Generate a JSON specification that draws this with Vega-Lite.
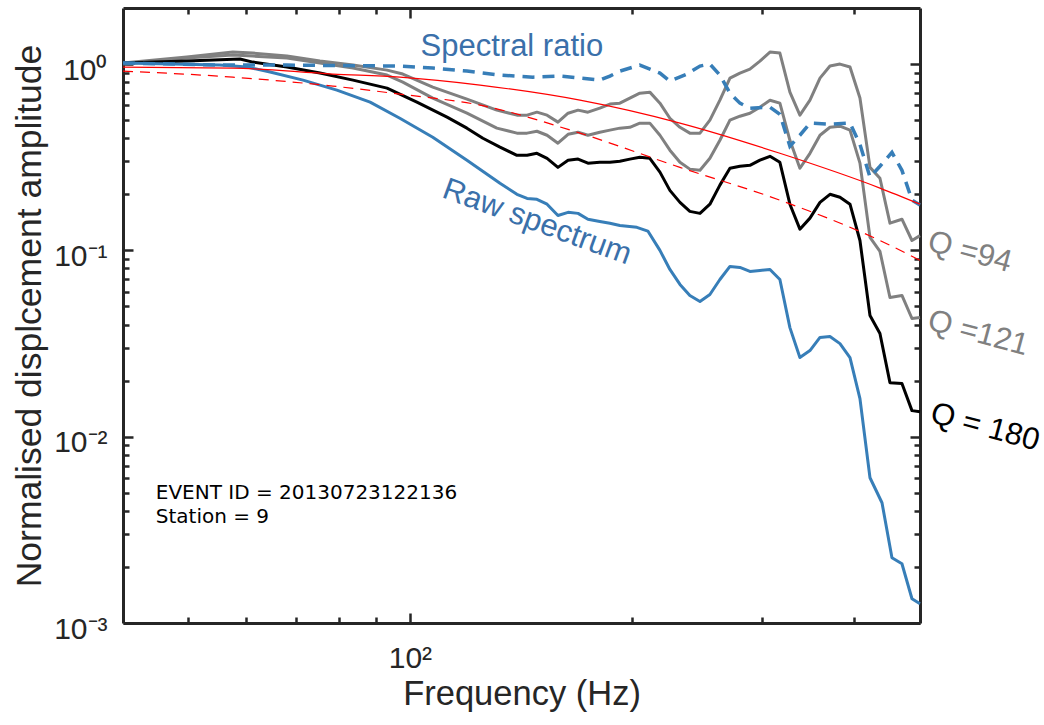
{
  "$schema": "https://vega.github.io/schema/vega-lite/v6.json",
  "width": 797,
  "height": 615,
  "autosize": {"type": "none"},
  "padding": {"left": 123, "top": 8, "right": 124, "bottom": 102},
  "background": "white",
  "config": {
    "view": {"stroke": null},
    "font": "Liberation Sans",
    "axis": {
      "grid": false,
      "domainColor": "#262626",
      "tickColor": "#262626",
      "labelColor": "#262626",
      "titleColor": "#262626",
      "domainWidth": 3,
      "tickWidth": 2.5,
      "labelFont": "Liberation Sans",
      "titleFont": "Liberation Sans",
      "titleFontWeight": "normal",
      "labelFontSize": 30,
      "titleFontSize": 34.5
    }
  },
  "datasets": {
    "raw": [
      {"f":40.8,"a":1.013},{"f":55.2,"a":0.988},{"f":60.1,"a":0.964},{"f":64.6,"a":0.906},{"f":71.6,"a":0.820},{"f":79.6,"a":0.725},{"f":88.3,"a":0.625},{"f":96.9,"a":0.512},{"f":107.4,"a":0.405},{"f":119.5,"a":0.305},{"f":132.5,"a":0.229},{"f":139.7,"a":0.200},{"f":144.2,"a":0.190},{"f":148.7,"a":0.188},{"f":153.5,"a":0.177},{"f":158.8,"a":0.154},{"f":163.9,"a":0.160},{"f":169.1,"a":0.158},{"f":174.4,"a":0.147},{"f":181.0,"a":0.143},{"f":186.8,"a":0.140},{"f":192.7,"a":0.136},{"f":203.2,"a":0.133},{"f":210.3,"a":0.127},{"f":218.4,"a":0.100},{"f":225.3,"a":0.079},{"f":232.5,"a":0.0657},{"f":239.8,"a":0.0573},{"f":247.5,"a":0.0532},{"f":255.3,"a":0.0580},{"f":263.4,"a":0.0698},{"f":271.8,"a":0.0820},{"f":280.4,"a":0.0810},{"f":289.3,"a":0.0771},{"f":298.5,"a":0.0781},{"f":308.0,"a":0.0790},{"f":317.7,"a":0.0698},{"f":327.8,"a":0.0385},{"f":338.2,"a":0.0266},{"f":349.0,"a":0.0290},{"f":360.1,"a":0.0341},{"f":371.5,"a":0.0345},{"f":383.3,"a":0.0316},{"f":395.5,"a":0.0266},{"f":408.0,"a":0.0160},{"f":421.0,"a":0.00602},{"f":437.1,"a":0.00442},{"f":450.9,"a":0.00224},{"f":465.2,"a":0.00208},{"f":480.0,"a":0.00135},{"f":492.2,"a":0.00127}
    ],
    "ratio": [
      {"f":40.8,"a":1.013},{"f":55.2,"a":0.988},{"f":68.1,"a":0.988},{"f":96.9,"a":0.976},{"f":107.4,"a":0.952},{"f":119.5,"a":0.917},{"f":132.5,"a":0.873},{"f":146.9,"a":0.851},{"f":159.8,"a":0.862},{"f":170.1,"a":0.841},{"f":181.0,"a":0.820},{"f":186.8,"a":0.862},{"f":192.7,"a":0.917},{"f":205.1,"a":0.988},{"f":218.4,"a":0.895},{"f":225.3,"a":0.810},{"f":237.6,"a":0.884},{"f":247.5,"a":0.976},{"f":255.3,"a":1.0},{"f":263.4,"a":0.873},{"f":271.8,"a":0.698},{"f":280.4,"a":0.617},{"f":289.3,"a":0.580},{"f":308.0,"a":0.587},{"f":317.7,"a":0.538},{"f":327.8,"a":0.362},{"f":338.2,"a":0.415},{"f":349.0,"a":0.482},{"f":371.5,"a":0.476},{"f":395.5,"a":0.482},{"f":408.0,"a":0.371},{"f":421.0,"a":0.247},{"f":434.3,"a":0.283},{"f":450.9,"a":0.336},{"f":465.2,"a":0.269},{"f":480.0,"a":0.186},{"f":492.2,"a":0.175}
    ],
    "q94": [
      {"f":40.8,"a":1.013},{"f":49.8,"a":1.091},{"f":57.5,"a":1.160},{"f":61.2,"a":1.146},{"f":68.1,"a":1.104},{"f":75.5,"a":1.038},{"f":83.7,"a":0.988},{"f":93.1,"a":0.928},{"f":97.8,"a":0.884},{"f":107.4,"a":0.752},{"f":119.5,"a":0.648},{"f":131.2,"a":0.566},{"f":139.7,"a":0.532},{"f":144.2,"a":0.532},{"f":148.7,"a":0.552},{"f":153.5,"a":0.532},{"f":158.8,"a":0.488},{"f":163.9,"a":0.545},{"f":169.1,"a":0.566},{"f":174.4,"a":0.552},{"f":181.0,"a":0.580},{"f":186.8,"a":0.610},{"f":192.7,"a":0.617},{"f":198.8,"a":0.657},{"f":205.1,"a":0.698},{"f":211.6,"a":0.707},{"f":218.4,"a":0.617},{"f":225.3,"a":0.512},{"f":232.5,"a":0.458},{"f":239.8,"a":0.426},{"f":247.5,"a":0.426},{"f":255.3,"a":0.500},{"f":263.4,"a":0.640},{"f":271.8,"a":0.841},{"f":280.4,"a":0.895},{"f":289.3,"a":0.940},{"f":298.5,"a":1.038},{"f":308.0,"a":1.160},{"f":317.7,"a":1.146},{"f":327.8,"a":0.707},{"f":338.2,"a":0.532},{"f":349.0,"a":0.640},{"f":360.1,"a":0.841},{"f":371.5,"a":0.976},{"f":383.3,"a":1.0},{"f":395.5,"a":0.964},{"f":408.0,"a":0.657},{"f":421.0,"a":0.279},{"f":434.3,"a":0.244},{"f":448.1,"a":0.140},{"f":465.2,"a":0.147},{"f":480.0,"a":0.113},{"f":492.2,"a":0.120}
    ],
    "q121": [
      {"f":40.8,"a":1.0},{"f":49.8,"a":1.077},{"f":57.5,"a":1.118},{"f":61.2,"a":1.104},{"f":68.1,"a":1.077},{"f":75.5,"a":1.013},{"f":83.7,"a":0.952},{"f":93.1,"a":0.873},{"f":97.8,"a":0.800},{"f":107.4,"a":0.657},{"f":119.5,"a":0.545},{"f":131.2,"a":0.453},{"f":139.7,"a":0.426},{"f":144.2,"a":0.426},{"f":148.7,"a":0.436},{"f":153.5,"a":0.415},{"f":158.8,"a":0.376},{"f":163.9,"a":0.420},{"f":169.1,"a":0.431},{"f":174.4,"a":0.415},{"f":181.0,"a":0.431},{"f":186.8,"a":0.442},{"f":192.7,"a":0.453},{"f":198.8,"a":0.458},{"f":205.1,"a":0.482},{"f":211.6,"a":0.482},{"f":218.4,"a":0.415},{"f":225.3,"a":0.345},{"f":232.5,"a":0.297},{"f":239.8,"a":0.273},{"f":247.5,"a":0.269},{"f":255.3,"a":0.312},{"f":263.4,"a":0.390},{"f":271.8,"a":0.500},{"f":280.4,"a":0.525},{"f":289.3,"a":0.545},{"f":298.5,"a":0.587},{"f":308.0,"a":0.640},{"f":317.7,"a":0.617},{"f":327.8,"a":0.390},{"f":338.2,"a":0.276},{"f":349.0,"a":0.332},{"f":360.1,"a":0.415},{"f":371.5,"a":0.458},{"f":383.3,"a":0.464},{"f":395.5,"a":0.442},{"f":408.0,"a":0.294},{"f":421.0,"a":0.1175},{"f":434.3,"a":0.0988},{"f":448.1,"a":0.0559},{"f":465.2,"a":0.0573},{"f":480.0,"a":0.0431},{"f":492.2,"a":0.0436}
    ],
    "q180": [
      {"f":40.8,"a":1.013},{"f":49.8,"a":1.038},{"f":58.8,"a":1.064},{"f":61.2,"a":1.025},{"f":68.1,"a":0.964},{"f":75.5,"a":0.895},{"f":83.7,"a":0.820},{"f":93.1,"a":0.743},{"f":102.2,"a":0.625},{"f":112.3,"a":0.519},{"f":119.5,"a":0.453},{"f":125.6,"a":0.400},{"f":132.5,"a":0.358},{"f":139.7,"a":0.324},{"f":144.2,"a":0.324},{"f":148.7,"a":0.332},{"f":153.5,"a":0.312},{"f":158.8,"a":0.279},{"f":163.9,"a":0.305},{"f":169.1,"a":0.309},{"f":174.4,"a":0.294},{"f":181.0,"a":0.297},{"f":186.8,"a":0.297},{"f":192.7,"a":0.301},{"f":198.8,"a":0.309},{"f":205.1,"a":0.316},{"f":211.6,"a":0.312},{"f":218.4,"a":0.263},{"f":225.3,"a":0.210},{"f":232.5,"a":0.181},{"f":239.8,"a":0.162},{"f":247.5,"a":0.158},{"f":255.3,"a":0.177},{"f":263.4,"a":0.224},{"f":271.8,"a":0.276},{"f":280.4,"a":0.283},{"f":289.3,"a":0.286},{"f":298.5,"a":0.305},{"f":308.0,"a":0.320},{"f":317.7,"a":0.297},{"f":327.8,"a":0.177},{"f":338.2,"a":0.130},{"f":349.0,"a":0.149},{"f":360.1,"a":0.181},{"f":371.5,"a":0.200},{"f":383.3,"a":0.193},{"f":395.5,"a":0.177},{"f":408.0,"a":0.113},{"f":421.0,"a":0.0447},{"f":434.3,"a":0.0358},{"f":448.1,"a":0.0195},{"f":465.2,"a":0.0193},{"f":480.0,"a":0.0138},{"f":492.2,"a":0.0136}
    ],
    "redSolid": [
      {"f":40.8,"a":0.964},{"f":57.5,"a":0.952},{"f":78.6,"a":0.884},{"f":96.9,"a":0.851},{"f":124.5,"a":0.771},{"f":170.1,"a":0.640},{"f":232.5,"a":0.482},{"f":317.7,"a":0.332},{"f":434.3,"a":0.216},{"f":492.2,"a":0.177}
    ],
    "redDash": [
      {"f":40.8,"a":0.917},{"f":57.5,"a":0.851},{"f":78.6,"a":0.762},{"f":96.9,"a":0.690},{"f":124.5,"a":0.602},{"f":170.1,"a":0.426},{"f":232.5,"a":0.279},{"f":317.7,"a":0.186},{"f":434.3,"a":0.113},{"f":492.2,"a":0.0884}
    ],
    "notes": [
      {"k":"ratio","f":137.5,"a":1.234,"t":"Spectral ratio"},
      {"k":"raw","f":148.7,"a":0.1414,"t":"Raw spectrum"},
      {"k":"q94","f":575,"a":0.0975,"t":"Q =94"},
      {"k":"q121","f":590,"a":0.0358,"t":"Q =121"},
      {"k":"q180","f":603,"a":0.0112,"t":"Q = 180"},
      {"k":"ev","f":45.2,"a":0.00464,"t":"EVENT ID = 20130723122136"},
      {"k":"st","f":45.2,"a":0.00345,"t":"Station = 9"}
    ]
  },
  "layer": [
    {
      "data": {"name": "q94"},
      "mark": {"type": "line", "color": "#808080", "strokeWidth": 3, "strokeJoin": "round"},
      "encoding": {
        "x": {"field": "f", "type": "quantitative", "scale": {"type": "log", "domain": [40.8, 492.2], "nice": false},
          "axis": {"orient": "bottom", "values": [100], "labelExpr": "'10²'", "tickSize": -10, "labelPadding": 30, "labelFlush": false, "title": "Frequency (Hz)", "titlePadding": 4, "domain": true}},
        "y": {"field": "a", "type": "quantitative", "scale": {"type": "log", "domain": [0.001, 2], "nice": false},
          "axis": {"orient": "left", "values": [0.001, 0.01, 0.1, 1], "labelExpr": "datum.value > 0.5 ? '10⁰' : datum.value > 0.05 ? '10⁻¹' : datum.value > 0.005 ? '10⁻²' : '10⁻³'", "tickSize": -10, "labelPadding": 26, "labelOffset": 6, "labelFlush": false, "title": "Normalised displcement amplitude", "titleFontSize": 35.5, "titlePadding": 6, "domain": true}}
      }
    },
    {
      "data": {"name": "q121"},
      "mark": {"type": "line", "color": "#808080", "strokeWidth": 3, "strokeJoin": "round"},
      "encoding": {
        "x": {"field": "f", "type": "quantitative", "scale": {"type": "log", "domain": [40.8, 492.2], "nice": false},
          "axis": {"orient": "bottom", "values": [50, 60, 70, 80, 90, 200, 300, 400], "labels": false, "tickSize": -6, "title": null, "domain": false}},
        "y": {"field": "a", "type": "quantitative", "scale": {"type": "log", "domain": [0.001, 2], "nice": false},
          "axis": {"orient": "left", "values": [0.002,0.003,0.004,0.005,0.006,0.007,0.008,0.009,0.02,0.03,0.04,0.05,0.06,0.07,0.08,0.09,0.2,0.3,0.4,0.5,0.6,0.7,0.8,0.9], "labels": false, "tickSize": -6, "title": null, "domain": false}}
      }
    },
    {
      "data": {"name": "q180"},
      "mark": {"type": "line", "color": "#000000", "strokeWidth": 3, "strokeJoin": "round"},
      "encoding": {
        "x": {"field": "f", "type": "quantitative", "scale": {"type": "log", "domain": [40.8, 492.2], "nice": false},
          "axis": {"orient": "top", "values": [100], "labels": false, "tickSize": -10, "title": null, "domain": true}},
        "y": {"field": "a", "type": "quantitative", "scale": {"type": "log", "domain": [0.001, 2], "nice": false},
          "axis": {"orient": "right", "values": [0.001, 0.01, 0.1, 1], "labels": false, "tickSize": -10, "title": null, "domain": true}}
      }
    },
    {
      "data": {"name": "raw"},
      "mark": {"type": "line", "color": "#377eb8", "strokeWidth": 3, "strokeJoin": "round"},
      "encoding": {
        "x": {"field": "f", "type": "quantitative", "scale": {"type": "log", "domain": [40.8, 492.2], "nice": false},
          "axis": {"orient": "top", "values": [50, 60, 70, 80, 90, 200, 300, 400], "labels": false, "tickSize": -6, "title": null, "domain": false}},
        "y": {"field": "a", "type": "quantitative", "scale": {"type": "log", "domain": [0.001, 2], "nice": false},
          "axis": {"orient": "right", "values": [0.002,0.003,0.004,0.005,0.006,0.007,0.008,0.009,0.02,0.03,0.04,0.05,0.06,0.07,0.08,0.09,0.2,0.3,0.4,0.5,0.6,0.7,0.8,0.9], "labels": false, "tickSize": -6, "title": null, "domain": false}}
      }
    },
    {
      "data": {"name": "ratio"},
      "mark": {"type": "line", "color": "#377eb8", "strokeWidth": 3.5, "strokeDash": [12, 8]},
      "encoding": {
        "x": {"field": "f", "type": "quantitative", "scale": {"type": "log", "domain": [40.8, 492.2], "nice": false}, "axis": null},
        "y": {"field": "a", "type": "quantitative", "scale": {"type": "log", "domain": [0.001, 2], "nice": false}, "axis": null}
      }
    },
    {
      "data": {"name": "redSolid"},
      "mark": {"type": "line", "color": "#ff0000", "strokeWidth": 1.2, "interpolate": "monotone"},
      "encoding": {
        "x": {"field": "f", "type": "quantitative", "scale": {"type": "log", "domain": [40.8, 492.2], "nice": false}, "axis": null},
        "y": {"field": "a", "type": "quantitative", "scale": {"type": "log", "domain": [0.001, 2], "nice": false}, "axis": null}
      }
    },
    {
      "data": {"name": "redDash"},
      "mark": {"type": "line", "color": "#ff0000", "strokeWidth": 1.2, "strokeDash": [10, 7], "interpolate": "monotone"},
      "encoding": {
        "x": {"field": "f", "type": "quantitative", "scale": {"type": "log", "domain": [40.8, 492.2], "nice": false}, "axis": null},
        "y": {"field": "a", "type": "quantitative", "scale": {"type": "log", "domain": [0.001, 2], "nice": false}, "axis": null}
      }
    },
    {
      "data": {"name": "notes"},
      "transform": [{"filter": "datum.k == 'ratio'"}],
      "mark": {"type": "text", "color": "#3a70aa", "fontSize": 31, "font": "Liberation Sans", "align": "center", "baseline": "middle"},
      "encoding": {
        "x": {"field": "f", "type": "quantitative", "scale": {"type": "log", "domain": [40.8, 492.2], "nice": false}, "axis": null},
        "y": {"field": "a", "type": "quantitative", "scale": {"type": "log", "domain": [0.001, 2], "nice": false}, "axis": null},
        "text": {"field": "t"}
      }
    },
    {
      "data": {"name": "notes"},
      "transform": [{"filter": "datum.k == 'raw'"}],
      "mark": {"type": "text", "color": "#3a70aa", "fontSize": 31, "font": "Liberation Sans", "align": "center", "baseline": "middle", "angle": 20},
      "encoding": {
        "x": {"field": "f", "type": "quantitative", "scale": {"type": "log", "domain": [40.8, 492.2], "nice": false}, "axis": null},
        "y": {"field": "a", "type": "quantitative", "scale": {"type": "log", "domain": [0.001, 2], "nice": false}, "axis": null},
        "text": {"field": "t"}
      }
    },
    {
      "data": {"name": "notes"},
      "transform": [{"filter": "datum.k == 'q94' || datum.k == 'q121'"}],
      "mark": {"type": "text", "color": "#808080", "fontSize": 31, "font": "Liberation Sans", "align": "center", "baseline": "middle", "angle": 15},
      "encoding": {
        "x": {"field": "f", "type": "quantitative", "scale": {"type": "log", "domain": [40.8, 492.2], "nice": false}, "axis": null},
        "y": {"field": "a", "type": "quantitative", "scale": {"type": "log", "domain": [0.001, 2], "nice": false}, "axis": null},
        "text": {"field": "t"}
      }
    },
    {
      "data": {"name": "notes"},
      "transform": [{"filter": "datum.k == 'q180'"}],
      "mark": {"type": "text", "color": "#000000", "fontSize": 31, "font": "Liberation Sans", "align": "center", "baseline": "middle", "angle": 15},
      "encoding": {
        "x": {"field": "f", "type": "quantitative", "scale": {"type": "log", "domain": [40.8, 492.2], "nice": false}, "axis": null},
        "y": {"field": "a", "type": "quantitative", "scale": {"type": "log", "domain": [0.001, 2], "nice": false}, "axis": null},
        "text": {"field": "t"}
      }
    },
    {
      "data": {"name": "notes"},
      "transform": [{"filter": "datum.k == 'ev' || datum.k == 'st'"}],
      "mark": {"type": "text", "color": "#000000", "fontSize": 20, "font": "DejaVu Sans", "align": "left", "baseline": "alphabetic"},
      "encoding": {
        "x": {"field": "f", "type": "quantitative", "scale": {"type": "log", "domain": [40.8, 492.2], "nice": false}, "axis": null},
        "y": {"field": "a", "type": "quantitative", "scale": {"type": "log", "domain": [0.001, 2], "nice": false}, "axis": null},
        "text": {"field": "t"}
      }
    }
  ],
  "resolve": {"axis": {"x": "independent", "y": "independent"}}
}
